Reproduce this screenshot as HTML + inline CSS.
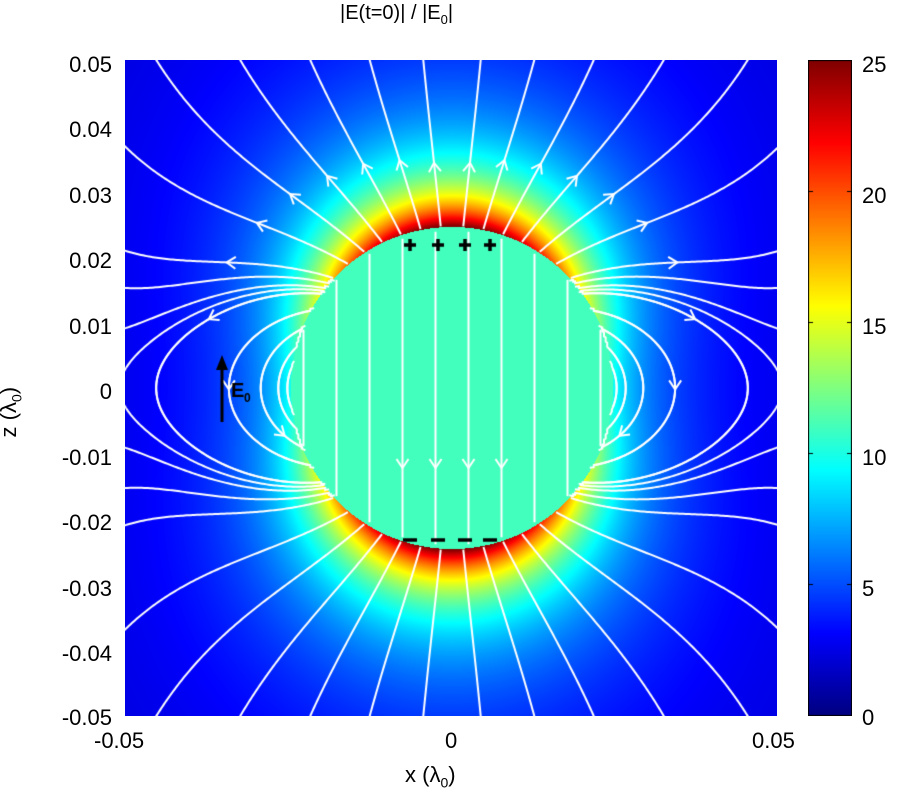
<!DOCTYPE html>
<html><head><meta charset="utf-8"><style>
body{margin:0;background:#fff;width:900px;height:800px;position:relative;overflow:hidden;font-family:"Liberation Sans",sans-serif;}
.t{position:absolute;font-size:22px;color:#000;white-space:nowrap;}
</style></head><body>
<canvas id="c" width="652" height="656" style="position:absolute;left:125px;top:60px"></canvas>
<canvas id="cb" width="44" height="656" style="position:absolute;left:808px;top:60px"></canvas>
<div class="t" style="left:340px;top:2px;font-size:20px">|E(t=0)| / |E<sub style="font-size:13px">0</sub>|</div>
<div class="t" style="right:788px;top:52px">0.05</div>
<div class="t" style="right:788px;top:117px">0.04</div>
<div class="t" style="right:788px;top:183px">0.03</div>
<div class="t" style="right:788px;top:248px">0.02</div>
<div class="t" style="right:788px;top:314px">0.01</div>
<div class="t" style="right:788px;top:379px">0</div>
<div class="t" style="right:788px;top:445px">-0.01</div>
<div class="t" style="right:788px;top:510px">-0.02</div>
<div class="t" style="right:788px;top:576px">-0.03</div>
<div class="t" style="right:788px;top:641px">-0.04</div>
<div class="t" style="right:788px;top:705px">-0.05</div>
<div class="t" style="left:94px;top:728px">-0.05</div>
<div class="t" style="left:445px;top:728px">0</div>
<div class="t" style="left:752px;top:728px">0.05</div>
<div class="t" style="left:405px;top:762px">x (λ<sub style="font-size:14px">0</sub>)</div>
<div class="t" style="left:-15px;top:398px;transform:rotate(-90deg)">z (λ<sub style="font-size:14px">0</sub>)</div>
<div class="t" style="left:862px;top:52px">25</div>
<div class="t" style="left:862px;top:183px">20</div>
<div class="t" style="left:862px;top:314px">15</div>
<div class="t" style="left:862px;top:445px">10</div>
<div class="t" style="left:862px;top:576px">5</div>
<div class="t" style="left:862px;top:705px">0</div>
<script>
function jet(v){v=Math.max(0,Math.min(1,v));
function f(x){return Math.max(0,Math.min(1,x));}
return [f(1.5-Math.abs(4*v-3)),f(1.5-Math.abs(4*v-2)),f(1.5-Math.abs(4*v-1))].map(x=>Math.round(x*255));}
var W=652,H=656,cx=327,cy=328,R=161,K=12;
function E(px,py){var u=(px-cx)/R,v=-(py-cy)/R;var r2=u*u+v*v;
if(r2<1)return [0,1-K];var r=Math.sqrt(r2),ux=u/r,uz=v/r,r3=r2*r;
return [K*3*uz*ux/r3, 1+K*(3*uz*uz-1)/r3];}
function val(px,py){var u=(px-cx)/R,v=-(py-cy)/R;var r2=u*u+v*v;if(r2<1)return 11;
var r=Math.sqrt(r2),c2=v*v/r2;return 1.8+8*Math.pow(3*c2+1,0.78)/(r2*r);}
var c=document.getElementById('c').getContext('2d');
var img=c.createImageData(W,H);
for(var y=0;y<H;y++)for(var x=0;x<W;x++){var col=jet(val(x+.5,y+.5)/25);var i=(y*W+x)*4;img.data[i]=col[0];img.data[i+1]=col[1];img.data[i+2]=col[2];img.data[i+3]=255;}
c.putImageData(img,0,0);
c.strokeStyle='#fff';c.lineWidth=2;c.fillStyle='#fff';
function arrow(x,y,dx,dy){var L=Math.hypot(dx,dy);dx/=L;dy/=L;
c.beginPath();c.moveTo(x-dx*9+dy*6,y-dy*9-dx*6);c.lineTo(x,y);c.lineTo(x-dx*9-dy*6,y-dy*9+dx*6);c.stroke();}
function inside(x,y){return Math.hypot(x-cx,y-cy)<R-0.5;}
function trace(x,y,dir,arrowAt){var pts=[[x,y]];var s=0;var ap=null;
for(var k=0;k<3000;k++){var e=E(x,y);var dx=e[0],dy=-e[1];var L=Math.hypot(dx,dy);if(L<1e-9)break;
dx=dx/L*dir*2;dy=dy/L*dir*2;
var e2=E(x+dx/2,y+dy/2);var dx2=e2[0],dy2=-e2[1];var L2=Math.hypot(dx2,dy2);dx=dx2/L2*dir*2;dy=dy2/L2*dir*2;
x+=dx;y+=dy;s+=2;pts.push([x,y]);
if(ap===null&&s>=arrowAt)ap=[x,y,dx*dir,dy*dir];
if(x<-2||x>W+2||y<-2||y>H+2)break;if(k>3&&inside(x,y))break;}
c.beginPath();c.moveTo(pts[0][0],pts[0][1]);for(var i=1;i<pts.length;i++)c.lineTo(pts[i][0],pts[i][1]);c.stroke();
if(ap)arrow(ap[0],ap[1],ap[2],ap[3]);}
for(var a=4;a<=84;a+=7.2){for(var sg=-1;sg<=1;sg+=2){var th=a*Math.PI/180;
var x=cx+sg*Math.sin(th)*(R+1),y=cy-Math.cos(th)*(R+1);trace(x,y,1,60+a);
x=cx+sg*Math.sin(th)*(R+1);y=cy+Math.cos(th)*(R+1);trace(x,y,-1,1e9);}}
[ -60,-20,20,60,-100,100].forEach(function(o){trace(1,cy+o,1,1e9);trace(1,cy+o,-1,1e9);trace(W-1,cy+o,1,1e9);trace(W-1,cy+o,-1,1e9);});
for(var k=-4.5;k<=4.5;k+=1){var x=cx+k*33;var h=Math.sqrt(R*R-(x-cx)*(x-cx));
c.beginPath();c.moveTo(x,cy-h+4);c.lineTo(x,cy+h-4);c.stroke();if(Math.abs(k)<2)arrow(x,cy-100+ (k%2?120:0)+60,0,1);}
c.fillStyle='#000';c.strokeStyle='#000';c.lineWidth=3.5;
[285,313,340,365].forEach(function(x){c.beginPath();c.moveTo(x-6,185);c.lineTo(x+6,185);c.moveTo(x,179);c.lineTo(x,191);c.stroke();
c.beginPath();c.moveTo(x-7,480);c.lineTo(x+7,480);c.stroke();});
c.lineWidth=3;c.beginPath();c.moveTo(97,362);c.lineTo(97,305);c.stroke();
c.beginPath();c.moveTo(97,295);c.lineTo(91,310);c.lineTo(103,310);c.closePath();c.fill();
c.font='bold 20px "Liberation Sans",sans-serif';c.fillText('E',106,337);c.font='bold 12px "Liberation Sans",sans-serif';c.fillText('0',119,342);
var cb=document.getElementById('cb').getContext('2d');
for(var y=0;y<656;y++){var col=jet(1-y/655);cb.fillStyle='rgb('+col+')';cb.fillRect(0,y,44,1);}
cb.strokeStyle='#000';cb.lineWidth=1;cb.strokeRect(0.5,0.5,43,655);
for(var i=0;i<=5;i++){var y=Math.round(i*131)+0.5;cb.beginPath();cb.moveTo(0,y);cb.lineTo(5,y);cb.moveTo(39,y);cb.lineTo(44,y);cb.stroke();}
</script>
</body></html>
